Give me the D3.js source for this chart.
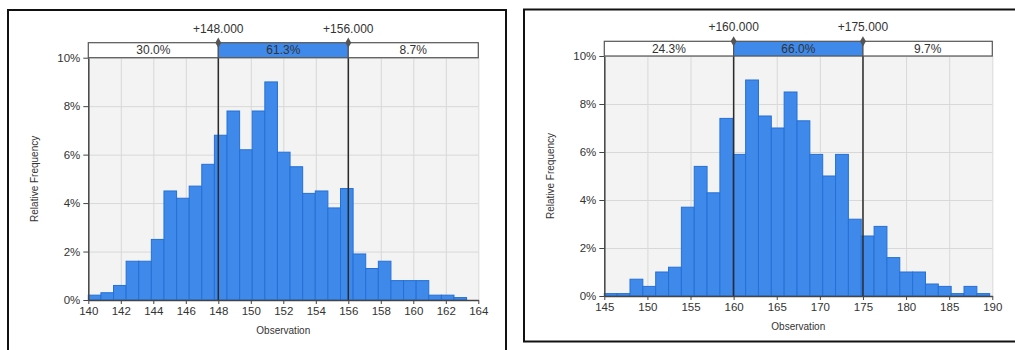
<!DOCTYPE html>
<head>
<meta charset="utf-8">
<script src="https://d3js.org/d3.v7.min.js"></script>
<style>
  body { margin: 0; background: #fff; }
  svg { font-family: "Liberation Sans", Arial, sans-serif; }
  .tick text { fill: #333; font-size: 11.5px; }
  .axis path, .axis line { stroke: #444; }
  .grid line { stroke: #d8d8d8; }
  .grid path { display: none; }
  .axis-title { fill: #333; font-size: 10px; }
</style>
</head>
<body>
<script>
// left histogram
var leftBinStart = 140, leftBinWidth = 0.776;
var leftFreq = [0.2, 0.3, 0.6, 1.6, 1.6, 2.5, 4.5, 4.2, 4.7, 5.6,
                6.8, 7.8, 6.2, 7.8, 9.0, 6.1, 5.5, 4.4, 4.5, 3.8,
                4.6, 1.9, 1.3, 1.6, 0.8, 0.8, 0.8, 0.2, 0.2, 0.1];
var leftXTicks = d3.range(140, 165, 2);
var leftCuts = [148, 156];
var leftShares = ["30.0%", "61.3%", "8.7%"];

// right histogram
var rightBinStart = 145, rightBinWidth = 1.49;
var rightFreq = [0.1, 0.1, 0.7, 0.4, 1.0, 1.2, 3.7, 5.4, 4.3, 7.4,
                 5.9, 9.0, 7.5, 7.0, 8.5, 7.3, 5.9, 5.0, 5.9, 3.2,
                 2.5, 2.9, 1.6, 1.0, 1.0, 0.5, 0.4, 0.1, 0.4, 0.1];
var rightXTicks = d3.range(145, 191, 5);
var rightCuts = [160, 175];
var rightShares = ["24.3%", "66.0%", "9.7%"];

var yTicks = [0, 2, 4, 6, 8, 10];

var svg = d3.select("body").append("svg")
    .attr("width", 1015)
    .attr("height", 350);

// panel frames
svg.append("rect").attr("x", 8).attr("y", 10).attr("width", 498).attr("height", 360)
    .attr("fill", "none").attr("stroke", "#111").attr("stroke-width", 2);
svg.append("rect").attr("x", 524).attr("y", 9.5).attr("width", 520).attr("height", 332)
    .attr("fill", "none").attr("stroke", "#111").attr("stroke-width", 2);

function drawChart(box, start, width, freq, xTicks, cuts, shares) {
  var x = d3.scaleLinear().domain([xTicks[0], xTicks[xTicks.length - 1]]).range([box.x0, box.x1]);
  var y = d3.scaleLinear().domain([0, 10]).range([box.y0, box.y1]);
  var g = svg.append("g");

  g.append("rect")
      .attr("x", box.x0).attr("y", box.y1)
      .attr("width", box.x1 - box.x0).attr("height", box.y0 - box.y1)
      .attr("fill", "#f3f3f3");

  g.append("g").attr("class", "grid")
      .attr("transform", "translate(0," + box.y0 + ")")
      .call(d3.axisBottom(x).tickValues(xTicks).tickSize(-(box.y0 - box.y1)).tickFormat(""));
  g.append("g").attr("class", "grid")
      .attr("transform", "translate(" + box.x0 + ",0)")
      .call(d3.axisLeft(y).tickValues(yTicks).tickSize(-(box.x1 - box.x0)).tickFormat(""));

  g.append("g").selectAll("rect")
      .data(freq)
      .join("rect")
      .attr("x", function(d, i) { return x(start + i * width); })
      .attr("width", x(start + width) - x(start))
      .attr("y", function(d) { return y(d); })
      .attr("height", function(d) { return y(0) - y(d); })
      .attr("fill", "#3e89ea")
      .attr("stroke", "#2570d6")
      .attr("stroke-width", 1);

  // cut lines
  g.append("g").selectAll("line")
      .data(cuts)
      .join("line")
      .attr("x1", function(d) { return x(d); })
      .attr("x2", function(d) { return x(d); })
      .attr("y1", box.band)
      .attr("y2", box.y0)
      .attr("stroke", "#2b2b2b")
      .attr("stroke-width", 1.5);

  var xa = g.append("g").attr("class", "axis")
      .attr("transform", "translate(0," + box.y0 + ")")
      .call(d3.axisBottom(x).tickValues(xTicks).tickSize(4).tickSizeOuter(0).tickPadding(3));
  xa.select(".domain").attr("stroke-width", 1.5);

  var ya = g.append("g").attr("class", "axis")
      .attr("transform", "translate(" + box.x0 + ",0)")
      .call(d3.axisLeft(y).tickValues(yTicks).tickSize(5).tickSizeOuter(0).tickPadding(3)
          .tickFormat(function(d) { return d + "%"; }));
  ya.select(".domain").attr("stroke-width", 1.5);

  // band with shares
  var edges = [xTicks[0]].concat(cuts).concat([xTicks[xTicks.length - 1]]);
  var segs = shares.map(function(s, i) { return { a: edges[i], b: edges[i + 1], t: s, mid: i === 1 }; });
  g.append("g").selectAll("rect")
      .data(segs)
      .join("rect")
      .attr("x", function(d) { return x(d.a); })
      .attr("width", function(d) { return x(d.b) - x(d.a); })
      .attr("y", box.band)
      .attr("height", box.y1 - box.band)
      .attr("fill", function(d) { return d.mid ? "#3e89ea" : "#fff"; })
      .attr("stroke", "#555")
      .attr("stroke-width", 1.2);
  g.append("g").selectAll("text")
      .data(segs)
      .join("text")
      .attr("x", function(d) { return (x(d.a) + x(d.b)) / 2; })
      .attr("y", (box.band + box.y1) / 2 + 4)
      .attr("text-anchor", "middle")
      .attr("font-size", 12)
      .attr("fill", "#333")
      .text(function(d) { return d.t; });

  // cut markers + labels
  g.append("g").selectAll("path")
      .data(cuts)
      .join("path")
      .attr("d", d3.symbol(d3.symbolDiamond, 30))
      .attr("transform", function(d) { return "translate(" + x(d) + "," + box.band + ")"; })
      .attr("fill", "#555");
  g.append("g").selectAll("text")
      .data(cuts)
      .join("text")
      .attr("x", function(d) { return x(d); })
      .attr("y", box.band - 10)
      .attr("text-anchor", "middle")
      .attr("font-size", 12)
      .attr("fill", "#333")
      .text(function(d) { return "+" + d.toFixed(3); });

  g.append("text").attr("class", "axis-title")
      .attr("x", (box.x0 + box.x1) / 2)
      .attr("y", box.y0 + 34)
      .attr("text-anchor", "middle")
      .text("Observation");
  g.append("text").attr("class", "axis-title")
      .attr("transform", "translate(" + (box.x0 - 50) + "," + ((box.y0 + box.y1) / 2) + ") rotate(-90)")
      .attr("text-anchor", "middle")
      .text("Relative Frequency");
}

drawChart({ x0: 88.3, x1: 478.3, y0: 300, y1: 57.7, band: 42.7 },
    leftBinStart, leftBinWidth, leftFreq, leftXTicks, leftCuts, leftShares);
drawChart({ x0: 604.3, x1: 992.3, y0: 296, y1: 56, band: 41.3 },
    rightBinStart, rightBinWidth, rightFreq, rightXTicks, rightCuts, rightShares);
</script>
</body>
